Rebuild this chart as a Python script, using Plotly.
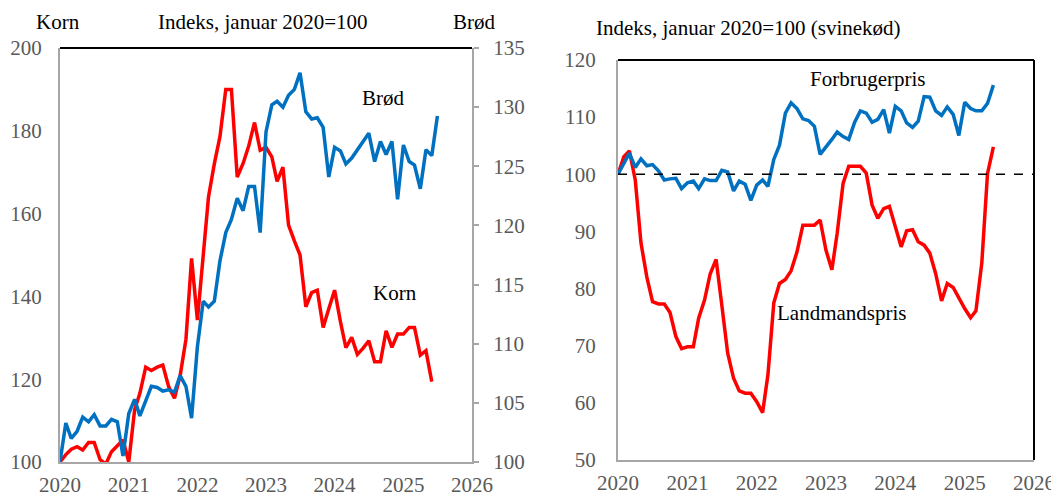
import pandas as pd
import plotly.graph_objects as go

# ---------------- data ----------------
korn = [100, 101.8, 103.1, 103.7, 102.9, 104.7, 104.7, 100.6, 99.5, 102.5,
        103.9, 105.3, 100.0, 112.6, 116.6, 122.9, 122.1, 122.9, 123.4, 118.2,
        115.4, 120.8, 129.6, 149.2, 134.3, 151, 164, 172, 178.6, 190,
        190, 168.8, 172.1, 176.3, 182.0, 175.3, 176.0, 173.7, 167.8, 171.2,
        157.2, 153.4, 150.0, 137.5, 140.9, 141.5, 132.5, 137, 141.5, 133.9,
        127.6, 130.1, 126.0, 127.5, 129.3, 124.2, 124.2, 131.7, 127.7, 130.9,
        130.9, 132.5, 132.5, 125.8, 126.9, 119.4]
broed = [100, 103.3, 102.0, 102.6, 103.8, 103.4, 104.0, 103.05, 103.05, 103.6,
         103.4, 100.5, 104.1, 105.3, 103.9, 105.1, 106.4, 106.3, 106.0, 106.1,
         105.9, 107.3, 106.4, 103.7, 109.75, 113.6, 113.1, 113.6, 117.0, 119.4,
         120.5, 122.3, 121.25, 123.3, 123.3, 119.4, 127.9, 130.2, 130.5, 130.0,
         131.0, 131.5, 132.9, 129.6, 129.0, 129.1, 128.3, 124.1, 126.6, 126.3,
         125.2, 125.7, 126.4, 127.1, 127.8, 125.4, 127.1, 126.0, 127.1, 122.2,
         126.8, 125.4, 125.1, 123.1, 126.4, 125.9, 129.25]
forbrugerpris = [100, 102.0, 103.7, 101.2, 102.7, 101.5, 101.7, 100.6, 99.0, 99.2,
                 99.3, 97.5, 98.5, 98.8, 97.5, 99.2, 98.9, 98.9, 100.7, 100.4,
                 97.1, 98.8, 98.25, 95.45, 98.1, 99.0, 97.9, 102.6, 105.1, 110.7,
                 112.5, 111.5, 109.7, 109.4, 108.4, 103.5, 104.7, 106.1, 107.4, 106.6,
                 106.1, 109.1, 111.1, 110.7, 109.1, 109.6, 111.3, 107.2, 111.9, 111.1,
                 109.0, 108.2, 109.3, 113.6, 113.5, 111.1, 110.3, 111.8, 110.5, 106.8,
                 112.6, 111.5, 111.1, 111.1, 112.4, 115.6]
landmandspris = [100, 103.1, 104.1, 99.0, 88.0, 82.0, 77.7, 77.3, 77.3, 75.8,
                 71.6, 69.5, 69.8, 69.8, 74.8, 78.0, 82.6, 85.1, 77.1, 68.7,
                 64.3, 62.1, 61.7, 61.7, 60.2, 58.3, 64.9, 77.5, 80.9, 81.6,
                 83.1, 86.4, 91.1, 91.1, 91.1, 92.0, 86.7, 83.3, 89.7, 98.4,
                 101.4, 101.4, 101.4, 100.2, 94.6, 92.3, 94.0, 94.4, 90.8, 87.3,
                 90.1, 90.3, 88.2, 87.6, 86.2, 82.6, 77.85, 80.9, 80.2, 78.3,
                 76.5, 74.9, 76.1, 84.5, 100.1, 104.8]
ref_level = 100
start_month = "2020-01-01"
x_range = ["2020-01-01", "2026-01-01"]

def months(n):
    return pd.date_range(start_month, periods=n, freq="MS")

RED = "#FF0000"
BLUE = "#0070C0"
GREY_TXT = "#595959"
AX_GREY = "#A6A6A6"
FONT = "Liberation Serif"
OFF = 8                      # page body margin in the browser
W, H = 1059 - OFF, 498 - OFF
LW = 3.5

def px(x):
    return (x - OFF) / W

def py(y):
    return 1 - (y - OFF) / H

fig = go.Figure()
fig.add_trace(go.Scatter(x=months(len(korn)), y=korn, mode="lines",
                         line=dict(color=RED, width=LW), xaxis="x", yaxis="y"))
fig.add_trace(go.Scatter(x=months(len(broed)), y=broed, mode="lines",
                         line=dict(color=BLUE, width=LW), xaxis="x", yaxis="y2"))
fig.add_trace(go.Scatter(x=months(len(landmandspris)), y=landmandspris, mode="lines",
                         line=dict(color=RED, width=LW), xaxis="x2", yaxis="y3"))
fig.add_trace(go.Scatter(x=months(len(forbrugerpris)), y=forbrugerpris, mode="lines",
                         line=dict(color=BLUE, width=LW), xaxis="x2", yaxis="y3"))

tickfont = dict(family=FONT, size=21, color=GREY_TXT)
xcommon = dict(type="date", range=x_range, dtick="M12", tickformat="%Y",
               showgrid=False, zeroline=False, showline=True, linecolor=AX_GREY,
               linewidth=2, tickfont=tickfont, ticks="", ticklabelstandoff=3,
               automargin=False)

fig.update_layout(
    width=W, height=H, showlegend=False,
    paper_bgcolor="white", plot_bgcolor="white",
    margin=dict(l=0, r=0, t=0, b=0, autoexpand=False),
    font=dict(family=FONT, size=21, color="black"),
    xaxis=dict(domain=[px(60), px(472)], anchor="y", **xcommon),
    yaxis=dict(domain=[py(462), py(48)], range=[100, 200], dtick=20, anchor="x",
               showgrid=False, zeroline=False, showline=True, linecolor=AX_GREY,
               linewidth=2, tickfont=tickfont, ticks="", ticklabelstandoff=12,
               automargin=False),
    yaxis2=dict(domain=[py(462), py(48)], range=[100, 135], dtick=5, anchor="x",
                overlaying="y", side="right",
                showgrid=False, zeroline=False, showline=True, linecolor=AX_GREY,
                linewidth=2, tickfont=tickfont, ticks="outside", ticklen=5,
                tickcolor=AX_GREY, tickwidth=2, ticklabelstandoff=10,
                automargin=False),
    xaxis2=dict(domain=[px(618), px(1034)], anchor="y3", **xcommon),
    yaxis3=dict(domain=[py(460), py(60)], range=[50, 120], dtick=10, anchor="x2",
                showgrid=False, zeroline=False, showline=True, linecolor=AX_GREY,
                linewidth=2, tickfont=tickfont, ticks="", ticklabelstandoff=16,
                automargin=False),
)

# borders and reference line
fig.add_shape(type="line", xref="x domain", yref="y domain", x0=0, x1=1, y0=1, y1=1,
              line=dict(color="black", width=2))
fig.add_shape(type="line", xref="x2 domain", yref="y3 domain", x0=0, x1=1, y0=1, y1=1,
              line=dict(color="black", width=2))
fig.add_shape(type="line", xref="x2 domain", yref="y3 domain", x0=1, x1=1, y0=0, y1=1,
              line=dict(color="black", width=2))
fig.add_shape(type="line", xref="x2 domain", yref="y3", x0=0, x1=1, y0=ref_level, y1=ref_level,
              line=dict(color="black", width=1.5, dash="dash"))

def label(text, x, y, size=21):
    fig.add_annotation(text=text, xref="paper", yref="paper", x=px(x), y=py(y),
                       xanchor="center", yanchor="middle", showarrow=False,
                       font=dict(family=FONT, size=size, color="black"))

label("Korn", 58, 22)
label("Indeks, januar 2020=100", 263, 22)
label("Brød", 474, 22)
label("Indeks, januar 2020=100 (svinekød)", 748, 28)
label("Brød", 383, 98)
label("Korn", 395, 293)
label("Forbrugerpris", 867, 79)
label("Landmandspris", 841, 313)

fig.write_html("out.html")
